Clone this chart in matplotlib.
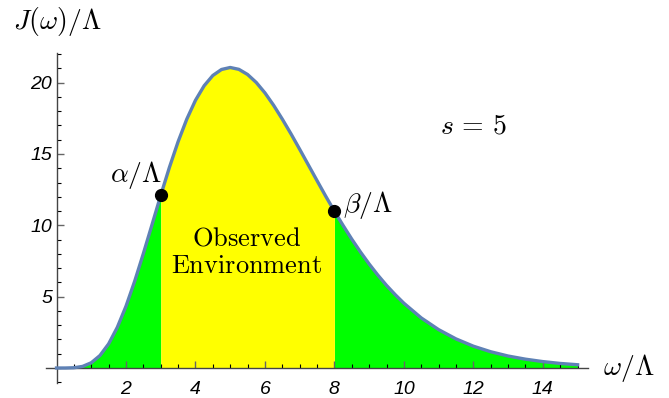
import numpy as np
import matplotlib.pyplot as plt

plt.rcParams['mathtext.fontset'] = 'cm'

# spectral density (s = 5)
omega = [0, 0.25, 0.5, 0.75, 1, 1.25, 1.5, 1.75, 2, 2.25, 2.5, 2.75, 3, 3.25,
         3.5, 3.75, 4, 4.25, 4.5, 4.75, 5, 5.25, 5.5, 5.75, 6, 6.25, 6.5, 6.75,
         7, 7.25, 7.5, 7.75, 8, 8.25, 8.5, 8.75, 9, 9.25, 9.5, 9.75, 10, 10.5,
         11, 11.5, 12, 12.5, 13, 13.5, 14, 14.5, 15]
J = [0, 0.001, 0.019, 0.112, 0.368, 0.874, 1.69, 2.85, 4.33, 6.08, 8.02, 10.05,
     12.10, 14.06, 15.86, 17.44, 18.76, 19.78, 20.50, 20.92, 21.06, 20.93, 20.57,
     20.01, 19.28, 18.41, 17.44, 16.41, 15.33, 14.23, 13.13, 12.04, 10.99, 9.99,
     9.03, 8.13, 7.29, 6.51, 5.79, 5.14, 4.54, 3.51, 2.69, 2.04, 1.53, 1.14,
     0.84, 0.62, 0.45, 0.32, 0.23]
alpha, beta = 3, 8
J_alpha, J_beta = 12.10, 10.99

omega = np.array(omega)
J = np.array(J)

fig = plt.figure(figsize=(6.69, 3.98), dpi=100)
ax = fig.add_axes([0.0689, 0.0359, 0.810, 0.8354])

left = omega <= alpha
mid = (omega >= alpha) & (omega <= beta)
right = omega >= beta
ax.fill_between(omega[left], 0, J[left], color='#00FF00', lw=0)
ax.fill_between(omega[right], 0, J[right], color='#00FF00', lw=0)
ax.fill_between(omega[mid], 0, J[mid], color='#FFFF00', lw=0)
ax.plot(omega, J, color='#5E81B5', lw=2.4, zorder=3, solid_joinstyle='round')
ax.plot([alpha, beta], [J_alpha, J_beta], 'o', color='black', ms=8.5, zorder=4)

ax.set_xlim(-0.3, 15.3)
ax.set_ylim(-1.1, 22.2)

for s in ['top', 'right']:
    ax.spines[s].set_visible(False)
ax.spines['left'].set_position(('data', 0))
ax.spines['bottom'].set_position(('data', 0))
ax.spines['left'].set_bounds(-1.05, 22.1)
for s in ['left', 'bottom']:
    ax.spines[s].set_color('#444444')
    ax.spines[s].set_linewidth(1.0)

ax.set_xticks([2, 4, 6, 8, 10, 12, 14])
ax.set_xticks(np.arange(0.5, 15.1, 0.5), minor=True)
ax.set_yticks([5, 10, 15, 20])
ax.set_yticks(np.arange(-1, 22.1, 1), minor=True)
ax.tick_params(which='major', direction='in', length=5, width=1, color='#666666',
               labelsize=14, pad=3)
ax.tick_params(which='minor', direction='in', length=3, width=0.8, color='black')
ax.tick_params(axis='x', pad=9)
for lab in ax.get_xticklabels() + ax.get_yticklabels():
    lab.set_fontstyle('italic')
    lab.set_family('Liberation Sans')

fig.text(0.02, 0.945, r'$J(\omega)/\Lambda$', fontsize=20, ha='left', va='center')
fig.text(0.901, 0.075, r'$\omega/\Lambda$', fontsize=20, ha='left', va='center')
ax.text(12.0, 17.0, r'$s\,=\,5$', fontsize=20, ha='center', va='center')
ax.text(2.29, 13.5, r'$\alpha/\Lambda$', fontsize=20, ha='center', va='center')
ax.text(8.96, 11.4, r'$\beta/\Lambda$', fontsize=20, ha='center', va='center')
ax.text(5.48, 9.07, r'$\mathrm{Observed}$', fontsize=19, ha='center', va='center')
ax.text(5.48, 7.18, r'$\mathrm{Environment}$', fontsize=19, ha='center', va='center')

fig.savefig('out.png', dpi=100)
